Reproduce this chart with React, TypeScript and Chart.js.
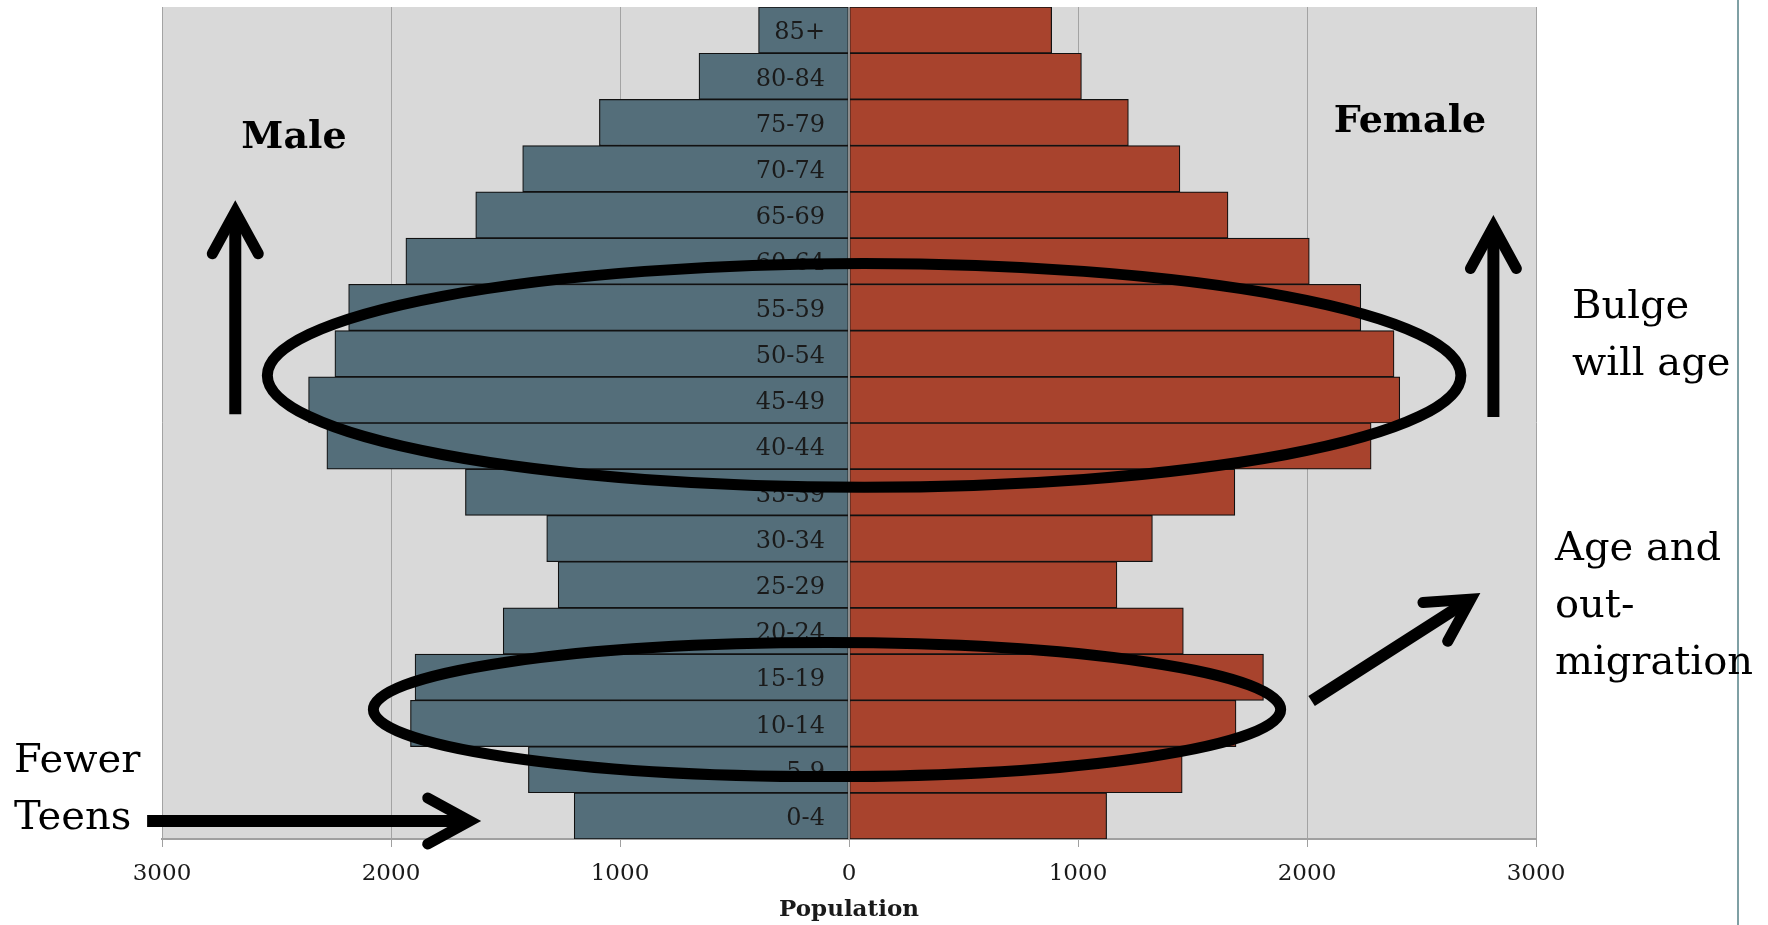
import React, { useEffect, useRef } from 'react';
import { Chart, registerables } from 'chart.js';

Chart.register(...registerables);

// ---------------- data ----------------
const ageGroups = ['0-4', '5-9', '10-14', '15-19', '20-24', '25-29', '30-34', '35-39', '40-44', '45-49', '50-54', '55-59', '60-64', '65-69', '70-74', '75-79', '80-84', '85+'];
const maleValues = [1200, 1400, 1915, 1895, 1510, 1270, 1320, 1675, 2280, 2360, 2245, 2185, 1935, 1630, 1425, 1090, 655, 395];
const femaleValues = [1125, 1455, 1690, 1810, 1460, 1170, 1325, 1685, 2280, 2405, 2380, 2235, 2010, 1655, 1445, 1220, 1015, 885];
const xMin = -3000;
const xMax = 3000;
const xStep = 1000;
const xTitle = 'Population';

// annotation shapes (data coordinates: x = population, y = age-group index)
const ellipses = [
  { cx: 66, cy: 9.53, rx: 2606, ry: 2.42 },
  { cx: -96, cy: 2.3, rx: 1981, ry: 1.45 },
];
const arrows = [
  { from: [-2680, 8.69], to: [-2680, 13.2] },
  { from: [2814, 8.63], to: [2814, 12.88] },
  { from: [2020, 2.485], to: [2737, 4.757] },
  { from: [-3065, -0.11], to: [-1630, -0.11] },
];
const notes = [
  { lines: ['Male'], x: 294, y: 148, bold: true, size: 38, align: 'center' },
  { lines: ['Female'], x: 1410, y: 132, bold: true, size: 38, align: 'center' },
  { lines: ['Bulge', 'will age'], x: 1572, y: 318, bold: false, size: 40, align: 'left' },
  { lines: ['Age and', 'out-', 'migration'], x: 1555, y: 560, bold: false, size: 40, align: 'left' },
  { lines: ['Fewer', 'Teens'], x: 14, y: 772, bold: false, size: 40, align: 'left' },
];

const MALE_COLOR = '#546e7a';
const FEMALE_COLOR = '#a8432d';
const PLOT_BG = '#d9d9d9';
const GRID = '#a3a3a3';
const SERIF = '"DejaVu Serif", "Liberation Serif", serif';

const W = 1768;
const H = 925;
const PLOT_LEFT = 162;
const PLOT_RIGHT = 1536;
const LABEL_GAP_PX = 24;
// x value at which the age labels are right-aligned (a small gap left of zero)
const LABEL_ANCHOR = -(LABEL_GAP_PX * (xMax - xMin)) / (PLOT_RIGHT - PLOT_LEFT);

const decorPlugin = {
  id: 'decor',
  beforeDraw(chart: any) {
    const { ctx, chartArea } = chart;
    ctx.save();
    ctx.fillStyle = PLOT_BG;
    ctx.fillRect(chartArea.left, chartArea.top, chartArea.right - chartArea.left, chartArea.bottom - chartArea.top);
    ctx.restore();
  },
  afterDatasetsDraw(chart: any) {
    const { ctx, chartArea } = chart;
    const x0 = Math.round(chart.scales.x.getPixelForValue(0));
    ctx.save();
    ctx.strokeStyle = '#8c8c8c';
    ctx.lineWidth = 2;
    ctx.beginPath();
    ctx.moveTo(x0, chartArea.top);
    ctx.lineTo(x0, chartArea.bottom);
    ctx.stroke();
    ctx.restore();
  },
  afterDraw(chart: any) {
    const { ctx } = chart;
    const xs = chart.scales.x;
    const ys = chart.scales.y;
    const px = (v: number) => xs.getPixelForValue(v);
    const py = (v: number) => ys.getPixelForValue(v);
    ctx.save();
    // slide frame line on the right
    ctx.strokeStyle = '#7fa0a4';
    ctx.lineWidth = 2;
    ctx.beginPath();
    ctx.moveTo(1738, 0);
    ctx.lineTo(1738, H);
    ctx.stroke();

    ctx.strokeStyle = '#000';
    ctx.fillStyle = '#000';
    // ellipses
    ctx.lineWidth = 11;
    for (const e of ellipses) {
      const cx = px(e.cx);
      const cy = py(e.cy);
      const rx = Math.abs(px(e.cx + e.rx) - cx);
      const ry = Math.abs(py(e.cy + e.ry) - cy);
      ctx.beginPath();
      ctx.ellipse(cx, cy, rx, ry, 0, 0, Math.PI * 2);
      ctx.stroke();
    }
    // arrows
    for (const a of arrows) {
      const x1 = px(a.from[0]);
      const y1 = py(a.from[1]);
      const x2 = px(a.to[0]);
      const y2 = py(a.to[1]);
      const len = Math.hypot(x2 - x1, y2 - y1);
      const ux = (x2 - x1) / len;
      const uy = (y2 - y1) / len;
      const back = 48;
      const half = 23;
      ctx.lineWidth = 12;
      ctx.lineCap = 'butt';
      ctx.beginPath();
      ctx.moveTo(x1, y1);
      ctx.lineTo(x2 - ux * 8, y2 - uy * 8);
      ctx.stroke();
      ctx.lineWidth = 11;
      ctx.lineCap = 'round';
      ctx.lineJoin = 'miter';
      ctx.miterLimit = 10;
      ctx.beginPath();
      ctx.moveTo(x2 - ux * back - uy * half, y2 - uy * back + ux * half);
      ctx.lineTo(x2 - ux * 6, y2 - uy * 6);
      ctx.lineTo(x2 - ux * back + uy * half, y2 - uy * back - ux * half);
      ctx.stroke();
    }
    // notes
    ctx.textBaseline = 'alphabetic';
    for (const n of notes) {
      ctx.font = `${n.bold ? 'bold ' : ''}${n.size}px ${SERIF}`;
      ctx.textAlign = n.align as CanvasTextAlign;
      n.lines.forEach((line, i) => {
        ctx.fillText(line, n.x, n.y + i * 57);
      });
    }
    ctx.restore();
  },
};

export default function App() {
  const ref = useRef<HTMLCanvasElement>(null);
  useEffect(() => {
    const canvas = ref.current;
    if (!canvas) return;
    const chart = new Chart(canvas, {
      type: 'bar',
      data: {
        labels: ageGroups,
        datasets: [
          {
            label: 'Male',
            data: maleValues.map((v) => -v),
            backgroundColor: MALE_COLOR,
            borderColor: '#111',
            borderWidth: 1.2,
            borderSkipped: false,
            barPercentage: 1,
            categoryPercentage: 1,
          },
          {
            label: 'Female',
            data: femaleValues,
            backgroundColor: FEMALE_COLOR,
            borderColor: '#111',
            borderWidth: 1.2,
            borderSkipped: false,
            barPercentage: 1,
            categoryPercentage: 1,
          },
        ],
      },
      options: {
        indexAxis: 'y',
        animation: false,
        responsive: true,
        maintainAspectRatio: false,
        layout: { padding: { left: PLOT_LEFT, right: W - PLOT_RIGHT, top: 7, bottom: 0 } },
        plugins: { legend: { display: false }, tooltip: { enabled: false } },
        scales: {
          x: {
            type: 'linear',
            stacked: true,
            min: xMin,
            max: xMax,
            afterFit: (scale: any) => {
              scale.height = 86;
              scale.paddingLeft = 0;
              scale.paddingRight = 0;
            },
            ticks: {
              stepSize: xStep,
              padding: 13,
              color: '#1a1a1a',
              font: { family: SERIF, size: 23 },
              callback: (v: any) => String(Math.abs(Number(v))),
            },
            grid: { color: GRID, lineWidth: 1, drawTicks: true, tickLength: 8, tickColor: '#a0a0a0' },
            border: { color: '#a0a0a0', width: 2 },
            title: {
              display: true,
              text: xTitle,
              color: '#1a1a1a',
              font: { family: SERIF, size: 23, weight: 'bold' },
              padding: { top: 0, bottom: 1 },
            },
          },
          y: {
            type: 'category',
            stacked: true,
            reverse: true,
            position: { x: LABEL_ANCHOR } as any,
            afterFit: (scale: any) => {
              scale.paddingTop = 0;
              scale.paddingBottom = 0;
            },
            grid: { display: false, drawTicks: false },
            border: { display: false },
            ticks: {
              z: 1,
              autoSkip: false,
              padding: 0,
              labelOffset: 3,
              color: '#1a1a1a',
              font: { family: SERIF, size: 24 },
            },
          },
        },
      },
      plugins: [decorPlugin],
    } as any);
    return () => chart.destroy();
  }, []);
  return (
    <div style={{ position: 'fixed', left: 0, top: 0, width: W, height: H, background: '#fff' }}>
      <canvas ref={ref} />
    </div>
  );
}
